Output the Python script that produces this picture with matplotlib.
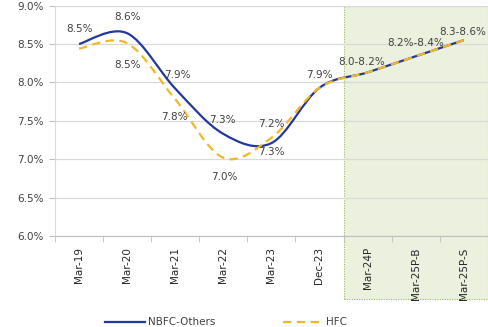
import numpy as np
import matplotlib
matplotlib.use("Agg")
import matplotlib.pyplot as plt
from matplotlib.patches import Rectangle
from matplotlib.path import Path
from matplotlib.patches import PathPatch
from matplotlib.lines import Line2D
import matplotlib.transforms as mtransforms

categories = ["Mar-19", "Mar-20", "Mar-21", "Mar-22", "Mar-23", "Dec-23",
              "Mar-24P", "Mar-25P-B", "Mar-25P-S"]
nbfc_others = [8.50, 8.64, 7.92, 7.33, 7.21, 7.93, 8.13, 8.34, 8.55]
hfc = [8.44, 8.51, 7.78, 7.02, 7.28, 7.93, 8.13, 8.34, 8.55]

nbfc_labels = ["8.5%", "8.6%", "7.9%", "7.3%", "7.2%", "7.9%", None, None, None]
hfc_labels = [None, "8.5%", "7.8%", "7.0%", "7.3%", None, None, None, None]
projection_labels = ["8.0-8.2%", "8.2%-8.4%", "8.3-8.6%"]
yticks = [6.0, 6.5, 7.0, 7.5, 8.0, 8.5, 9.0]

NAVY = "#22389a"
GOLD = "#f2b824"
TEXT = "#404040"
GRID = "#d9d9d9"


def smooth_path(xs, ys):
    """Cubic Bezier path through the points (Catmull-Rom style tangents)."""
    pts = np.column_stack([xs, ys]).astype(float)
    n = len(pts)
    verts = [pts[0]]
    codes = [Path.MOVETO]
    for i in range(n - 1):
        p0 = pts[i - 1] if i > 0 else pts[i]
        p1 = pts[i]
        p2 = pts[i + 1]
        p3 = pts[i + 2] if i + 2 < n else pts[i + 1]
        c1 = p1 + (p2 - p0) / 6.0
        c2 = p2 - (p3 - p1) / 6.0
        verts += [c1, c2, p2]
        codes += [Path.CURVE4] * 3
    return Path(verts, codes)


fig = plt.figure(figsize=(4.89, 3.27), dpi=100)
ax = fig.add_axes([0.1125, 0.278, 0.885, 0.705])

x = np.arange(len(categories))
ax.set_xlim(-0.5, len(categories) - 0.5)
ax.set_ylim(6.0, 9.0)

# projection band, reaching down behind the tick labels
trans = mtransforms.blended_transform_factory(ax.transData, ax.transAxes)
band = Rectangle((5.5, -0.275), 3.0, 1.275, transform=trans,
                 facecolor="#ebf1de", edgecolor="#9bbb59", linewidth=0.8,
                 linestyle=(0, (1, 1.2)), clip_on=False, zorder=0)
ax.add_patch(band)

ax.set_yticks(yticks)
ax.set_yticklabels([f"{v:.1f}%" for v in yticks], color=TEXT, fontsize=7.5)
ax.yaxis.grid(True, color=GRID, linewidth=0.9)
ax.set_axisbelow(True)

ax.set_xticks(x)
ax.set_xticklabels(categories, rotation=90, color="#262626", fontsize=7.5)
ax.set_xticks(np.arange(-0.5, len(categories)), minor=True)
ax.tick_params(axis="x", which="major", length=0, pad=8)
ax.tick_params(axis="x", which="minor", length=4, color="#bfbfbf", direction="out")
ax.tick_params(axis="y", length=4, color="#bfbfbf", pad=4)

for side in ["top", "right"]:
    ax.spines[side].set_visible(False)
ax.spines["left"].set_color("#d9d9d9")
ax.spines["bottom"].set_color("#bfbfbf")

nbfc_patch = PathPatch(smooth_path(x, nbfc_others), facecolor="none",
                       edgecolor=NAVY, linewidth=1.6, zorder=3,
                       capstyle="butt")
ax.add_patch(nbfc_patch)
hfc_patch = PathPatch(smooth_path(x, hfc), facecolor="none",
                      edgecolor=GOLD, linewidth=1.6, zorder=4,
                      linestyle=(0, (3.8, 2.4)), capstyle="butt")
ax.add_patch(hfc_patch)

k = 0.72  # pixel -> point offsets at 100 dpi


def put(label, xi, yi, dx, dy):
    ax.annotate(label, (xi, yi), xytext=(dx * k, dy * k),
                textcoords="offset points", ha="center", va="center",
                fontsize=7.5, color=TEXT, zorder=6)


nbfc_offsets = [(0, 15), (0, 16), (2, 14), (-1, 14), (0, 19), (0, 13)]
for i, (lab, off) in enumerate(zip(nbfc_labels, nbfc_offsets + [None] * 3)):
    if lab:
        put(lab, x[i], nbfc_others[i], *off)

hfc_offsets = [None, (0, -22), (-1, -18), (1, -19), (0, -14)]
for i, lab in enumerate(hfc_labels):
    if lab:
        put(lab, x[i], hfc[i], *hfc_offsets[i])

proj_offsets = [(-6, 10), (0, 13), (-1, 8)]
for j, lab in enumerate(projection_labels):
    i = 6 + j
    put(lab, x[i], nbfc_others[i], *proj_offsets[j])

handles = [Line2D([], [], color=NAVY, linewidth=1.6),
           Line2D([], [], color=GOLD, linewidth=1.6, linestyle=(0, (3.8, 2.4)))]
fig.legend(handles, ["NBFC-Others", "HFC"], loc="lower center",
           bbox_to_anchor=(0.462, -0.03), ncol=2, frameon=False,
           fontsize=7.5, handlelength=3.8, columnspacing=6.5,
           handletextpad=0.3, labelcolor=TEXT)

fig.savefig("out.png", dpi=100)
